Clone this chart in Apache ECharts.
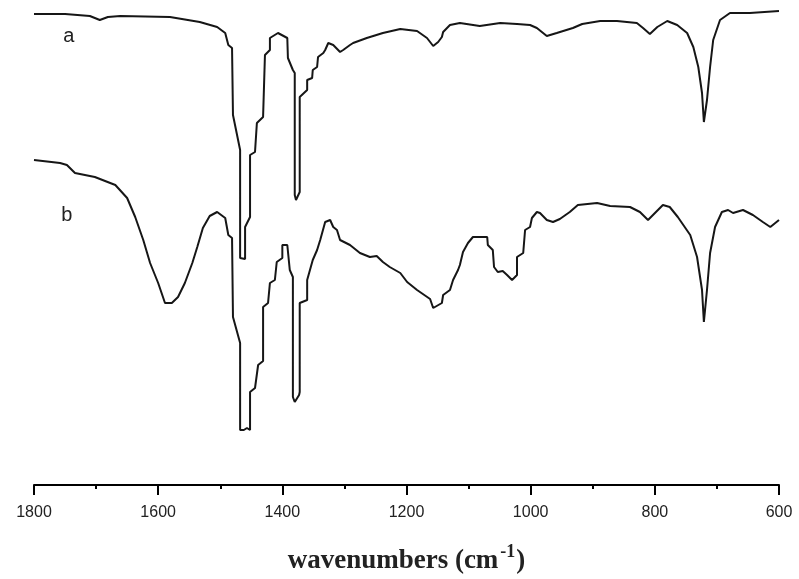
<!DOCTYPE html>
<html>
<head>
<meta charset="utf-8">
<script src="https://cdn.jsdelivr.net/npm/echarts@6/dist/echarts.min.js"></script>
<style>html,body{margin:0;padding:0;background:#fff}#c{width:799px;height:579px}</style>
</head>
<body>
<div id="c"></div>
<script>
// Spectrum a: wavenumber (cm-1) and transmittance (a.u.)
var waveA = [1800,1750,1710,1694,1681,1661,1581,1533,1505,1492,1487,1481,1479.5,1468,1468,1465,1460,1460,1452,1452,1444,1441,1431,1428,1420,1420,1407,1392,1391,1383,1380,1380,1378,1372,1372,1360,1360,1352,1351,1344,1342.5,1334,1331,1326,1318,1307,1302,1291,1286,1264,1238,1210,1183,1167,1157,1149,1143,1141,1130,1114,1082,1049,1022,1001,990,974,958,932,917,888,861,829,819,808,796,780,764,748,738,730,724,721,716,711,706,695,679,647,600];
var transA = [94.2,94.2,93.8,93.0,93.6,93.8,93.6,92.6,91.6,90.4,88.0,87.4,74.0,67.0,45.4,45.0,45.2,51.6,53.6,66.0,66.6,72.4,73.6,86.0,87.0,89.4,90.4,89.4,85.4,83.0,82.4,58.0,57.0,58.6,77.6,79.0,81.0,81.4,83.0,83.6,85.6,86.4,87.0,88.4,88.0,86.6,87.0,88.0,88.4,89.4,90.4,91.2,90.8,89.4,87.8,88.6,89.6,90.6,92.0,92.4,91.8,92.4,92.2,92.0,91.4,89.8,90.4,91.4,92.2,92.8,92.8,92.4,91.4,90.2,91.6,92.8,92.0,90.4,87.6,83.6,78.4,72.6,77.0,83.6,89.0,93.0,94.4,94.4,94.8];

// Spectrum b
var waveB = [1800,1758,1747,1734,1702,1669,1650,1637,1624,1613,1600,1589,1578,1568,1557,1545,1537,1528,1517,1505,1492,1487,1481,1479.5,1468,1468,1462,1457,1452,1452,1444,1439,1431,1431,1423,1420,1412,1409,1400,1400,1392,1388,1383,1383,1380,1373,1372,1372,1360,1360,1351,1344,1339,1331,1323,1318,1312,1307,1291,1275,1259,1248,1238,1227,1210,1199,1183,1162,1157,1143,1141,1130,1125,1117,1114,1109,1101,1093,1070,1069,1061,1059,1053,1045,1038,1030,1022,1022,1012,1009,1001,998,990,985,974,964,953,937,924,893,872,840,824,811,803,787,776,763,743,732,724,721,716,711,703,692,682,674,658,642,626,614,606,600];
var transB = [65.0,64.4,64.0,62.4,61.6,60.0,57.4,53.6,49.0,44.4,40.4,36.4,36.4,37.6,40.4,44.4,47.6,51.4,53.8,54.6,53.4,50.0,49.4,33.6,28.4,11.0,11.0,11.4,11.0,18.6,19.4,24.0,24.8,35.6,36.4,40.4,41.0,44.6,45.4,48.0,48.0,43.0,41.6,17.6,16.6,18.0,18.6,36.4,37.0,41.0,45.0,47.0,49.0,52.6,53.0,51.6,51.0,49.0,48.0,46.4,45.6,45.8,44.6,43.6,42.4,40.6,39.0,37.2,35.4,36.4,38.0,39.0,41.0,43.0,44.0,46.6,48.4,49.6,49.6,48.0,47.0,43.6,42.6,42.8,42.0,41.0,42.0,45.6,46.4,51.0,51.6,53.4,54.6,54.4,53.0,52.6,53.2,54.6,56.0,56.4,55.8,55.6,54.6,53.0,54.0,56.0,55.6,53.6,50.0,45.6,39.0,32.6,39.0,46.4,51.6,54.6,55.0,54.4,55.0,54.0,52.6,51.6,52.4,53.0];

var xTicks = [1800,1600,1400,1200,1000,800,600];
var seriesNames = ['a','b'];
var labelPosA = [1744, 89.8];
var labelPosB = [1747, 54.0];

function pairs(xs, ys){ var o=[]; for(var i=0;i<xs.length;i++){o.push([xs[i], ys[i]]);} return o; }

var chart = echarts.init(document.getElementById('c'), null, {renderer:'canvas'});
var lineStyle = {color:'#161616', width:2};
function labelMark(name, pos){
  return {
    symbol:'circle', symbolSize:1, itemStyle:{color:'rgba(0,0,0,0)'},
    label:{show:true, position:'inside', formatter:name, color:'#222', fontSize:20, fontFamily:'Liberation Sans'},
    data:[{coord:pos}]
  };
}
chart.setOption({
  animation:false,
  backgroundColor:'#fff',
  grid:{left:34, right:20, top:5, bottom:94, containLabel:false, outerBoundsMode:'none'},
  xAxis:{
    type:'value', inverse:true, min:600, max:1800, interval:200,
    axisLine:{show:true, onZero:false, lineStyle:{color:'#000', width:2}},
    axisTick:{show:true, length:10, lineStyle:{color:'#000', width:2}},
    minorTick:{show:true, splitNumber:2, length:4, lineStyle:{color:'#000', width:2}},
    splitLine:{show:false},
    axisLabel:{margin:20, fontSize:16, fontFamily:'Liberation Sans', color:'#222',
      formatter:function(v){ return xTicks.indexOf(v)>=0 ? String(v) : ''; }},
    name:'{a|wavenumbers (cm}{s|-1}{a|)}',
    nameLocation:'middle', nameGap:58,
    nameTextStyle:{rich:{
      a:{fontSize:27, fontWeight:'bold', fontFamily:'Liberation Serif', color:'#222'},
      s:{fontSize:18, fontWeight:'bold', fontFamily:'Liberation Serif', color:'#222', padding:[0,1,18,2]}
    }}
  },
  yAxis:{type:'value', show:false, min:0, max:96},
  series:[
    {name:seriesNames[0], type:'line', data:pairs(waveA, transA), showSymbol:false, lineStyle:lineStyle, markPoint:labelMark(seriesNames[0], labelPosA)},
    {name:seriesNames[1], type:'line', data:pairs(waveB, transB), showSymbol:false, lineStyle:lineStyle, markPoint:labelMark(seriesNames[1], labelPosB)}
  ]
});
</script>
</body>
</html>
